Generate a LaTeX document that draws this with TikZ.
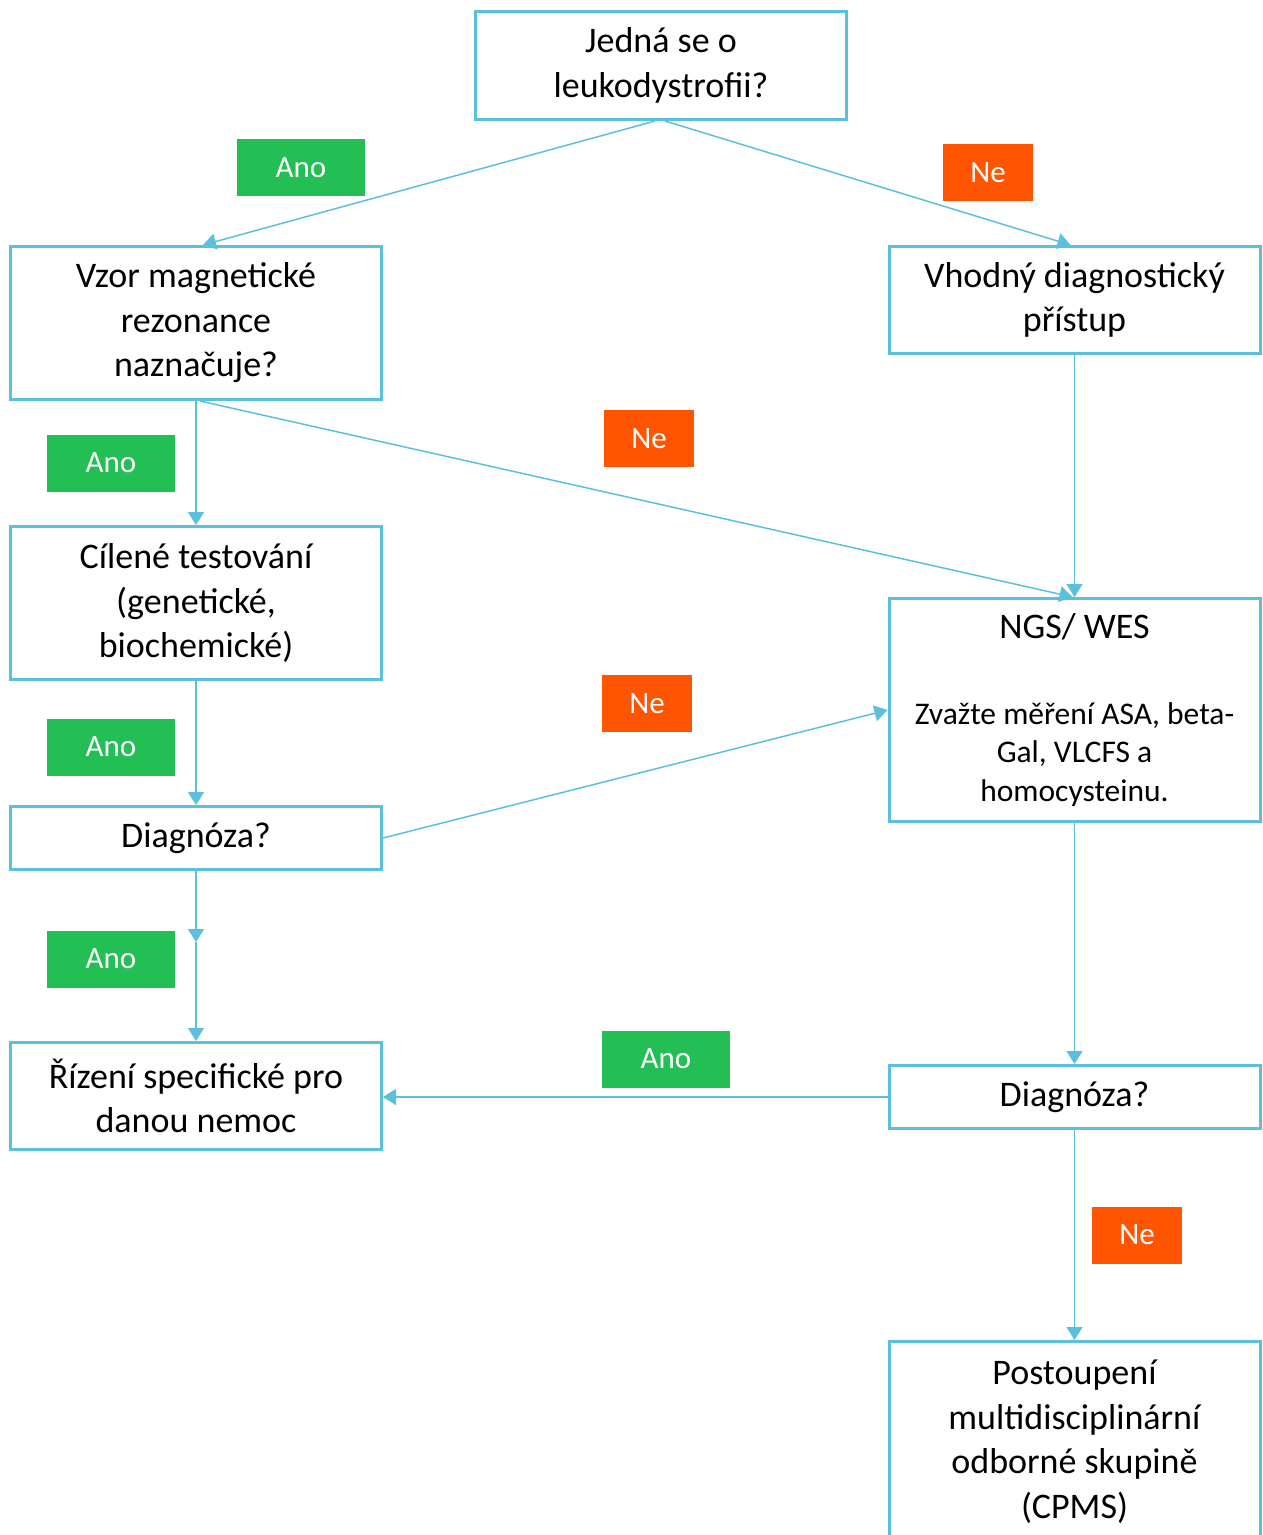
\documentclass[tikz,border=0pt]{standalone}
\usepackage{fontspec}
\setmainfont{Carlito}
\usepackage{tikz}
\usetikzlibrary{positioning, arrows.meta}
\definecolor{flowBlue}{RGB}{91,192,222}
\definecolor{flowGreen}{RGB}{35,191,84}
\definecolor{flowOrange}{RGB}{255,84,0}

\begin{document}
\begin{tikzpicture}[
    x=1pt, y=-1pt,
    box/.style={rectangle, draw=flowBlue, line width=3pt, text width=350pt, inner xsep=10.5pt, align=flush center, font=\fontsize{36}{44.5}\selectfont},
    ano/.style={fill=flowGreen, text=white, minimum width=128pt, minimum height=57pt, inner sep=0pt, font=\fontsize{31}{38}\selectfont},
    ne/.style={fill=flowOrange, text=white, minimum width=90pt, minimum height=57pt, inner sep=0pt, font=\fontsize{31}{38}\selectfont},
    arrow/.style={-{Triangle[width=16pt,length=13pt]}, draw=flowBlue, line width=1.5pt}
]
\useasboundingbox (0,0) rectangle (1262,1535);

% Start
\node[box, minimum height=108pt] (top) at (661,65.5) {Jedná se o\\leukodystrofii?};

% Left column
\node[box, minimum height=153pt] (vzor) at (196,323) {Vzor magnetické\\rezonance\\naznačuje?};
\node[box, minimum height=153pt, below=124pt of vzor] (cilene) {Cílené testování\\(genetické,\\biochemické)};
\node[box, minimum height=63pt, below=124pt of cilene] (diag1) {Diagnóza?};
\node[box, minimum height=107pt, below=170pt of diag1] (rizeni) {Řízení specifické pro\\danou nemoc};

% Right column
\node[box, minimum height=107pt] (vhodny) at (1074.5,300) {Vhodný diagnostický\\přístup};
\node[box, minimum height=223pt, below=242pt of vhodny] (ngs) {NGS/ WES\par\vspace{47pt}{\fontsize{31.5}{38.5}\selectfont Zvažte měření ASA, beta-\\Gal, VLCFS a\\homocysteinu.\par}};
\node[box, minimum height=63pt, below=241pt of ngs] (diag2) {Diagnóza?};
\node[box, minimum height=200pt, below=210pt of diag2] (cpms) {Postoupení\\multidisciplinární\\odborné skupině\\(CPMS)};

% Answers
\node[ano] (ano1) at (301,167.5) {Ano};
\node[ne] (ne1) at (988,172.5) {Ne};
\node[ano] (ano2) at (111,463) {Ano};
\node[ne] (ne2) at (649,438.5) {Ne};
\node[ano] (ano3) at (111,747) {Ano};
\node[ne] (ne3) at (647,703.5) {Ne};
\node[ano] (ano4) at (111,959) {Ano};
\node[ano] (ano5) at (666,1059) {Ano};
\node[ne] (ne4) at (1137,1235) {Ne};

% Arrows
\coordinate (mid) at (196,942);
\draw[arrow] ([xshift=-6pt]top.south) -- ([xshift=7pt]vzor.north);
\draw[arrow] ([xshift=4pt]top.south) -- ([xshift=-4pt]vhodny.north);
\draw[arrow] (vzor.south) -- (cilene.north);
\draw[arrow] ([xshift=4pt]vzor.south) -- ([xshift=-2pt]ngs.north);
\draw[arrow] (vhodny.south) -- (ngs.north);
\draw[arrow] (cilene.south) -- (diag1.north);
\draw[arrow] (diag1.east) -- (ngs.west);
\draw[arrow] (diag1.south) -- (mid);
\draw[arrow] (mid) -- (rizeni.north);
\draw[arrow] (ngs.south) -- (diag2.north);
\draw[arrow] (diag2.west) -- (diag2.west -| rizeni.east);
\draw[arrow] (diag2.south) -- (cpms.north);

\end{tikzpicture}
\end{document}
